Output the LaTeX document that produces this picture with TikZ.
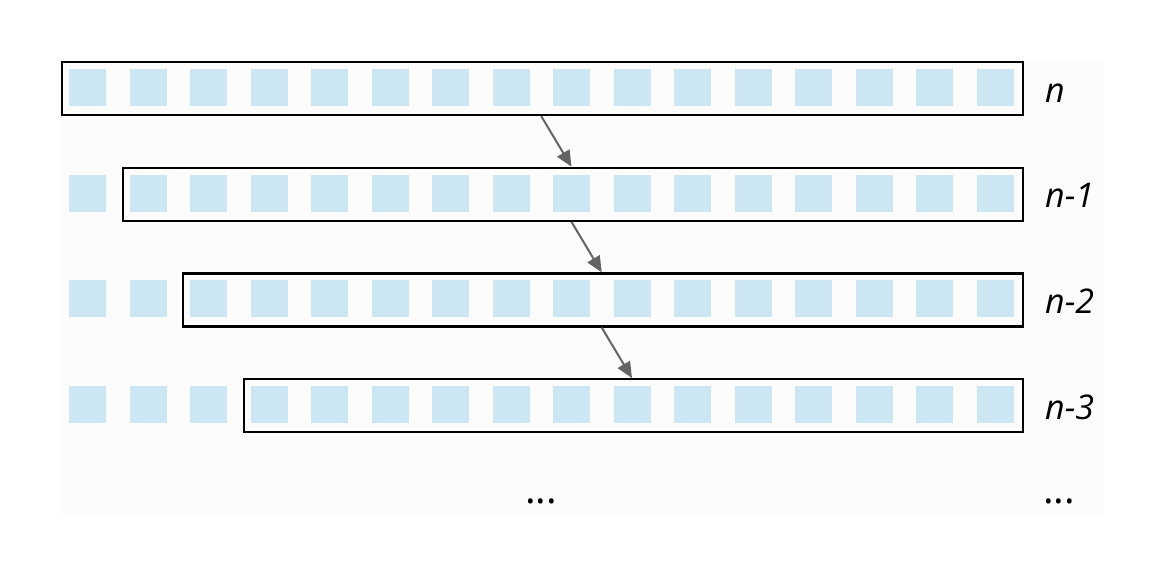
\documentclass[tikz,border=0pt]{standalone}
\usepackage{fontspec}
\setmainfont{Open Sans}
\usetikzlibrary{arrows.meta,calc}

\definecolor{cellblue}{RGB}{205,230,244}
\definecolor{bggray}{RGB}{252,252,253}
\definecolor{arrowgray}{RGB}{100,100,100}

\tikzset{
    cell/.style={fill=cellblue, minimum size=37pt, inner sep=0pt, outer sep=0pt},
    rowbox/.style={draw=black, line width=2.2pt, inner sep=0pt, minimum height=53pt, anchor=north west},
    shift arrow/.style={draw=arrowgray, line width=2pt, -{Triangle[length=16pt, width=14pt]}},
    lbl/.style={anchor=base west, inner sep=0pt, font=\fontsize{34}{40}\selectfont\itshape}
}

\begin{document}
\begin{tikzpicture}[x=1pt, y=-1pt]
    \useasboundingbox (0, 0) rectangle (1156, 562);
    \fill[bggray] (60, 61) rectangle (1103, 516);

    % the cells of each row
    \foreach \r in {0, 1, 2, 3} {
        \foreach \i in {0, ..., 15} {
            \node[cell] (q\r-\i) at ({87.5 + 60.5*\i}, {87.5 + 105.7*\r}) {};
        }
    }

    % windows
    \node[rowbox, minimum width=960.5pt] (r0) at (61, 61) {};
    \node[rowbox, minimum width=900pt] (r1) at (121.5, 166.7) {};
    \node[rowbox, minimum width=839.5pt] (r2) at (182, 272.4) {};
    \node[rowbox, minimum width=779pt] (r3) at (242.5, 378.1) {};

    % gaps between cells
    \coordinate (g7) at ($(q0-7.east)!0.5!(q0-8.west)$);
    \coordinate (g8) at ($(q0-8.east)!0.5!(q0-9.west)$);

    \draw[shift arrow] (g7 |- r0.south) -- (q1-8 |- r1.north);
    \draw[shift arrow] (q1-8 |- r1.south) -- (g8 |- r2.north);
    \draw[shift arrow] (g8 |- r2.south) -- (q3-9 |- r3.north);

    \node[lbl] (l0) at (1045, 102) {n};
    \node[lbl] (l1) at (1045, 207.7) {n-1};
    \node[lbl] (l2) at (1045, 313.4) {n-2};
    \node[lbl] (l3) at (1045, 419.1) {n-3};

    \node[lbl, font=\fontsize{40}{46}\selectfont, anchor=base] (d0) at (g7 |- 0, 503) {...};
    \node[lbl, font=\fontsize{40}{46}\selectfont, anchor=base] (d1) at (1059, 503) {...};

\end{tikzpicture}
\end{document}
